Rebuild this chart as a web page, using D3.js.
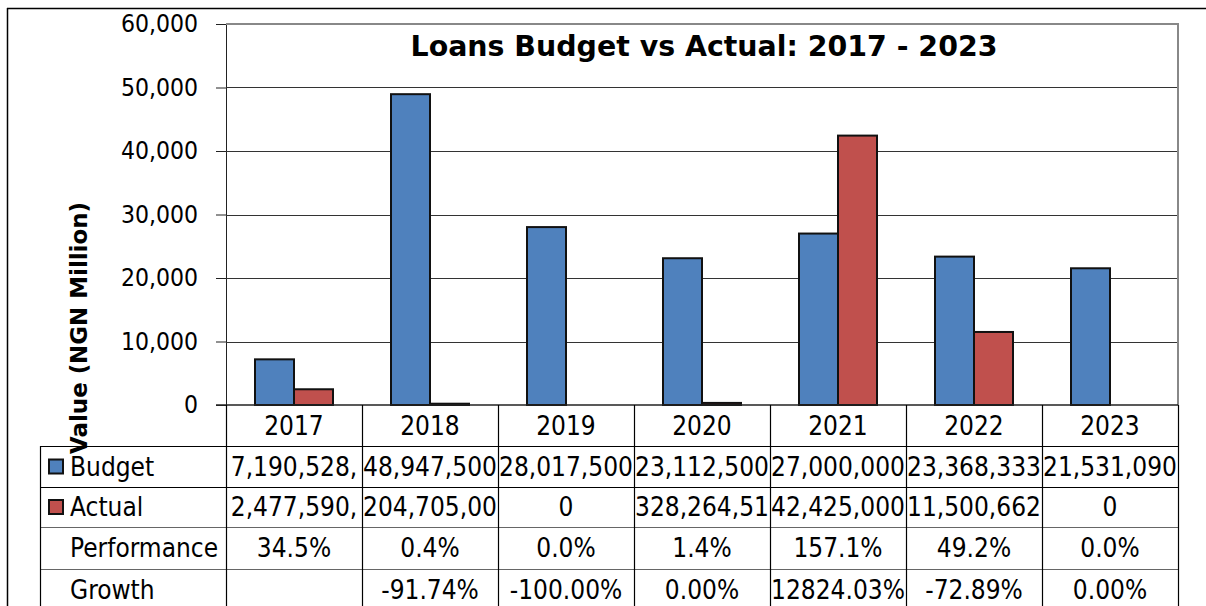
<!DOCTYPE html>
<head>
  <script src="https://d3js.org/d3.v7.min.js"></script>
  <style>
    body {
      margin: 0;
      overflow: hidden;
      background: #fff;
    }
    text {
      font-family: "DejaVu Sans Condensed", "DejaVu Sans", sans-serif;
      fill: #000;
    }
  </style>
</head>
<body>
  <svg width="1206" height="606"></svg>
  <script>
    // chart data (NGN million for the bars, table strings as shown)
    const years = ['2017', '2018', '2019', '2020', '2021', '2022', '2023'];
    const seriesNames = ['Budget', 'Actual'];
    const budget = [7190.528, 48947.5, 28017.5, 23112.5, 27000, 23368.333, 21531.09];
    const actual = [2477.59, 204.705, 0, 328.265, 42425, 11500.662, 0];
    const budgetText = ['7,190,528,', '48,947,500', '28,017,500', '23,112,500', '27,000,000', '23,368,333', '21,531,090'];
    const actualText = ['2,477,590,', '204,705,00', '0', '328,264,51', '42,425,000', '11,500,662', '0'];
    const performance = ['34.5%', '0.4%', '0.0%', '1.4%', '157.1%', '49.2%', '0.0%'];
    const growth = ['', '-91.74%', '-100.00%', '0.00%', '12824.03%', '-72.89%', '0.00%'];
    const yTicks = [0, 10000, 20000, 30000, 40000, 50000, 60000];

    const colors = { Budget: '#4F81BD', Actual: '#C0504D' };
    const titleText = 'Loans Budget vs Actual: 2017 - 2023';
    const yLabelText = 'Value (NGN Million)';

    const svg = d3.select('svg');
    const plot = { left: 226, right: 1178, top: 24, bottom: 405 };
    const tableLeft = 40;
    const rowEdges = [405, 446, 487, 527, 569, 611];

    const x0 = d3.scaleBand().domain(years).range([plot.left, plot.right]);
    const x1 = d3.scaleBand().domain(seriesNames).range([29, 107]);
    const y = d3.scaleLinear().domain([0, 60000]).range([plot.bottom, plot.top]);

    // outer frame
    svg.append('line').attr('x1', 7).attr('x2', 1206).attr('y1', 8.5).attr('y2', 8.5)
      .attr('stroke', '#000').attr('stroke-width', 1.5);
    svg.append('line').attr('x1', 7.5).attr('x2', 7.5).attr('y1', 8).attr('y2', 606)
      .attr('stroke', '#000').attr('stroke-width', 1.5);

    // gridlines + y axis
    const yAxis = d3.axisLeft(y).tickValues(yTicks).tickSize(10).tickPadding(18)
      .tickFormat(d3.format(','));
    const yAxisG = svg.append('g')
      .attr('transform', `translate(${plot.left},0)`)
      .call(yAxis);
    yAxisG.select('.domain').attr('stroke', '#222');
    yAxisG.selectAll('.tick line').attr('stroke', '#222');
    yAxisG.selectAll('.tick text').style('font-size', '24.5px');

    svg.append('g').selectAll('line').data(yTicks.filter(d => d > 0 && d < 60000))
      .join('line')
        .attr('x1', plot.left).attr('x2', plot.right)
        .attr('y1', d => Math.round(y(d)) + 0.5).attr('y2', d => Math.round(y(d)) + 0.5)
        .attr('stroke', '#333').attr('stroke-width', 1);

    // plot border (top and right are grey)
    svg.append('line').attr('x1', plot.left).attr('x2', plot.right + 1)
      .attr('y1', plot.top).attr('y2', plot.top)
      .attr('stroke', '#888').attr('stroke-width', 2);
    svg.append('line').attr('x1', plot.right).attr('x2', plot.right)
      .attr('y1', plot.top).attr('y2', plot.bottom)
      .attr('stroke', '#888').attr('stroke-width', 2);

    // bars
    const groups = svg.append('g').selectAll('g').data(years)
      .join('g')
        .attr('transform', d => `translate(${x0(d)},0)`);
    groups.selectAll('rect')
      .data((d, i) => seriesNames.map(s => ({ key: s, value: s === 'Budget' ? budget[i] : actual[i] })))
      .join('rect')
        .attr('x', d => x1(d.key))
        .attr('y', d => y(d.value))
        .attr('width', x1.bandwidth())
        .attr('height', d => y(0) - y(d.value))
        .attr('fill', d => colors[d.key])
        .attr('stroke', '#111')
        .attr('stroke-width', 2);

    // zero line
    svg.append('line').attr('x1', plot.left - 10).attr('x2', plot.right)
      .attr('y1', plot.bottom).attr('y2', plot.bottom)
      .attr('stroke', '#222').attr('stroke-width', 1.5);

    // data table
    const table = svg.append('g');
    const rows = [years, budgetText, actualText, performance, growth];
    const rowLabels = ['', 'Budget', 'Actual', 'Performance', 'Growth'];

    // clip per cell so long numbers get cut like in the original
    const defs = svg.append('defs');
    years.forEach((yr, j) => {
      defs.append('clipPath').attr('id', 'col' + j)
        .append('rect')
          .attr('x', x0(yr) + 1).attr('y', 400)
          .attr('width', x0.bandwidth() - 2).attr('height', 220);
    });

    rows.forEach((vals, r) => {
      const mid = (rowEdges[r] + rowEdges[r + 1]) / 2;
      table.append('g').selectAll('text').data(vals)
        .join('text')
          .attr('clip-path', (d, j) => `url(#col${j})`)
          .attr('x', (d, j) => x0(years[j]) + x0.bandwidth() / 2)
          .attr('y', mid)
          .attr('dy', '0.36em')
          .attr('text-anchor', 'middle')
          .style('font-size', '26px')
          .text(d => d);
      if (rowLabels[r]) {
        table.append('text')
          .attr('x', 70).attr('y', mid).attr('dy', '0.36em')
          .style('font-size', '26px')
          .text(rowLabels[r]);
      }
    });

    // legend keys in the table
    seriesNames.forEach((s, i) => {
      const mid = (rowEdges[i + 1] + rowEdges[i + 2]) / 2;
      table.append('rect')
        .attr('x', 49).attr('y', mid - 7)
        .attr('width', 14).attr('height', 14)
        .attr('fill', colors[s]).attr('stroke', '#111').attr('stroke-width', 2);
    });

    // table grid
    const lineColor = ['#000', '#000', '#000', '#666', '#666'];
    rowEdges.slice(1, 5).forEach((yy, i) => {
      table.append('line')
        .attr('x1', tableLeft).attr('x2', plot.right + 1)
        .attr('y1', yy + 0.5).attr('y2', yy + 0.5)
        .attr('stroke', lineColor[i + 1]).attr('stroke-width', 1.2);
    });
    table.append('line').attr('x1', tableLeft + 0.5).attr('x2', tableLeft + 0.5)
      .attr('y1', rowEdges[1]).attr('y2', 606).attr('stroke', '#000').attr('stroke-width', 1.2);
    years.concat(['end']).forEach((yr, j) => {
      const xx = j < years.length ? x0(yr) : plot.right;
      table.append('line')
        .attr('x1', Math.round(xx) + 0.5).attr('x2', Math.round(xx) + 0.5)
        .attr('y1', plot.bottom).attr('y2', 606)
        .attr('stroke', '#000').attr('stroke-width', 1.2);
    });

    // fit a text to a target width
    const fit = (sel, target) => {
      const w = sel.node().getComputedTextLength();
      const fs = parseFloat(sel.style('font-size'));
      sel.style('font-size', (fs * target / w) + 'px');
    };

    // title
    const title = svg.append('text')
      .attr('x', 704).attr('y', 56)
      .attr('text-anchor', 'middle')
      .style('font-weight', 'bold')
      .style('font-family', '"DejaVu Sans", sans-serif')
      .style('font-size', '28px')
      .text(titleText);
    fit(title, 587);

    // y axis label
    const yLabel = svg.append('text')
      .attr('transform', 'translate(87,328) rotate(-90)')
      .attr('text-anchor', 'middle')
      .style('font-weight', 'bold')
      .style('font-family', '"DejaVu Sans", sans-serif')
      .style('font-size', '24px')
      .text(yLabelText);
    fit(yLabel, 252);
  </script>
</body>
